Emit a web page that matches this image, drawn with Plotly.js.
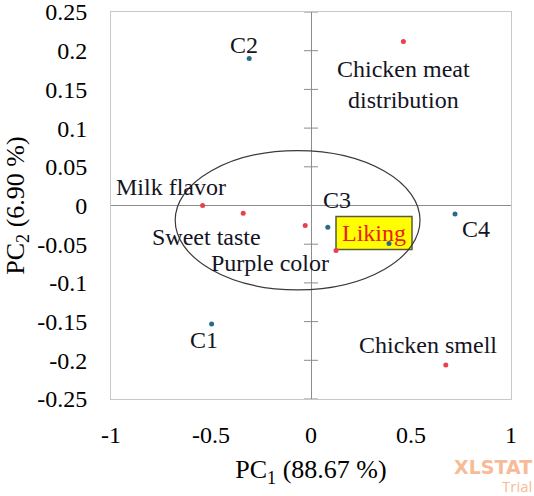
<!DOCTYPE html>
<html>
<head>
<meta charset="utf-8">
<script src="https://cdn.plot.ly/plotly-3.0.1.min.js"></script>
<style>html,body{margin:0;padding:0;background:#fff;}#chart{width:534px;height:496px;}</style>
</head>
<body>
<div id="chart"></div>
<script>
// Observations (blue)
const obsNames = ["C1", "C2", "C3", "C4", ""];
const obsPC1 = [-0.497, -0.309, 0.084, 0.720, 0.390];
const obsPC2 = [-0.153, 0.190, -0.028, -0.011, -0.049];

// Variables (red)
const varNames = ["Chicken meat<br>distribution", "Chicken smell", "Milk flavor", "Sweet taste", "Purple color", "Liking"];
const varPC1 = [0.462, 0.674, -0.542, -0.339, -0.029, 0.125];
const varPC2 = [0.212, -0.206, 0.000, -0.010, -0.026, -0.058];

// Axis ticks
const xTicks = [-1, -0.5, 0, 0.5, 1];
const yTicks = [-0.25, -0.2, -0.15, -0.1, -0.05, 0, 0.05, 0.1, 0.15, 0.2, 0.25];

// Confidence ellipse: centre and semi-axes in PC units
const ellipseCentre = [-0.067, -0.019];
const ellipseSemiAxes = [0.612, 0.090];

// Label offsets in pixels (style only)
const obsLabelShift = [[-8, -16], [-5, 13], [9, 27], [21, -15], [0, 0]];
const varLabelShift = [[0, -43], [-18, 20], [-32, 19], [-37, -24], [-35, -37], [38, 17]];

const FONT = "Liberation Serif";
const TXT = "#14141f";

const traces = [
  {
    x: varPC1, y: varPC2, mode: "markers", type: "scatter",
    marker: {color: "#e8404c", size: 5},
    hoverinfo: "skip", showlegend: false
  },
  {
    x: obsPC1, y: obsPC2, mode: "markers", type: "scatter",
    marker: {color: "#2c6b88", size: 5},
    hoverinfo: "skip", showlegend: false
  }
];

const annotations = [];
obsNames.forEach((n, i) => {
  if (!n) return;
  annotations.push({
    x: obsPC1[i], y: obsPC2[i], xref: "x", yref: "y", text: n, showarrow: false,
    xshift: obsLabelShift[i][0], yshift: obsLabelShift[i][1],
    font: {family: FONT, size: 24, color: TXT}
  });
});
varNames.forEach((n, i) => {
  const isLiking = n === "Liking";
  annotations.push({
    x: varPC1[i], y: varPC2[i], xref: "x", yref: "y", text: n, showarrow: false,
    xshift: varLabelShift[i][0], yshift: varLabelShift[i][1],
    font: {family: FONT, size: 24, color: isLiking ? "#e8201c" : TXT}
  });
});
// Watermark
annotations.push({
  x: 1.054, y: -0.176, xref: "paper", yref: "paper", xanchor: "right", yanchor: "middle",
  text: "<b>XLSTAT</b>", showarrow: false, borderpad: 0,
  font: {family: "DejaVu Sans", size: 19, color: "#f7bb98"}
});
annotations.push({
  x: 1.054, y: -0.226, xref: "paper", yref: "paper", xanchor: "right", yanchor: "middle",
  text: "Trial", showarrow: false, borderpad: 0,
  font: {family: "Open Sans", size: 15, color: "#f7bb98"}
});

const shapes = [];
// Tick marks crossing the vertical zero line
yTicks.forEach(v => {
  if (v === 0) return;
  shapes.push({
    type: "line", xref: "x", yref: "y", xsizemode: "pixel", xanchor: 0,
    x0: -7, x1: 7, y0: v, y1: v, line: {color: "#8c8c8c", width: 1}, layer: "above"
  });
});
// Ellipse
shapes.push({
  type: "circle", xref: "x", yref: "y",
  x0: ellipseCentre[0] - ellipseSemiAxes[0], x1: ellipseCentre[0] + ellipseSemiAxes[0],
  y0: ellipseCentre[1] - ellipseSemiAxes[1], y1: ellipseCentre[1] + ellipseSemiAxes[1],
  line: {color: "#3a3a3a", width: 1.2}, layer: "above"
});
// Liking highlight box, anchored at the Liking point
const li = varNames.indexOf("Liking");
shapes.push({
  type: "rect", xref: "x", yref: "y",
  xsizemode: "pixel", xanchor: varPC1[li], x0: 0, x1: 76,
  ysizemode: "pixel", yanchor: varPC2[li], y0: 1, y1: 34,
  fillcolor: "#ffff00", line: {color: "#5a5a40", width: 1.5}, layer: "below"
});

const layout = {
  width: 534, height: 496,
  margin: {l: 111, r: 23, t: 12, b: 97},
  paper_bgcolor: "#fff", plot_bgcolor: "#fff",
  font: {family: FONT, color: "#000"},
  xaxis: {
    range: [-1, 1], tickvals: xTicks, ticktext: xTicks.map(String),
    showgrid: false, zeroline: true, zerolinecolor: "#8c8c8c", zerolinewidth: 1,
    showline: true, mirror: true, linecolor: "#c8c8c8", linewidth: 1,
    ticks: "", ticklabelstandoff: 14, ticklabeloverflow: "allow",
    tickfont: {family: FONT, size: 24, color: "#000"},
    title: {text: "PC<sub>1</sub> (88.67 %)", font: {family: FONT, size: 26, color: "#000"}, standoff: 13}
  },
  yaxis: {
    range: [-0.25, 0.25], tickvals: yTicks, ticktext: yTicks.map(String),
    showgrid: false, zeroline: true, zerolinecolor: "#8c8c8c", zerolinewidth: 1,
    showline: true, mirror: true, linecolor: "#c8c8c8", linewidth: 1,
    ticks: "", ticklabelstandoff: 18, ticklabeloverflow: "allow",
    tickfont: {family: FONT, size: 24, color: "#000"},
    title: {text: "PC<sub>2</sub> (6.90 %)", font: {family: FONT, size: 26, color: "#000"}, standoff: 5}
  },
  annotations: annotations,
  shapes: shapes,
  showlegend: false
};

Plotly.newPlot("chart", traces, layout, {displayModeBar: false, staticPlot: true});
</script>
</body>
</html>
